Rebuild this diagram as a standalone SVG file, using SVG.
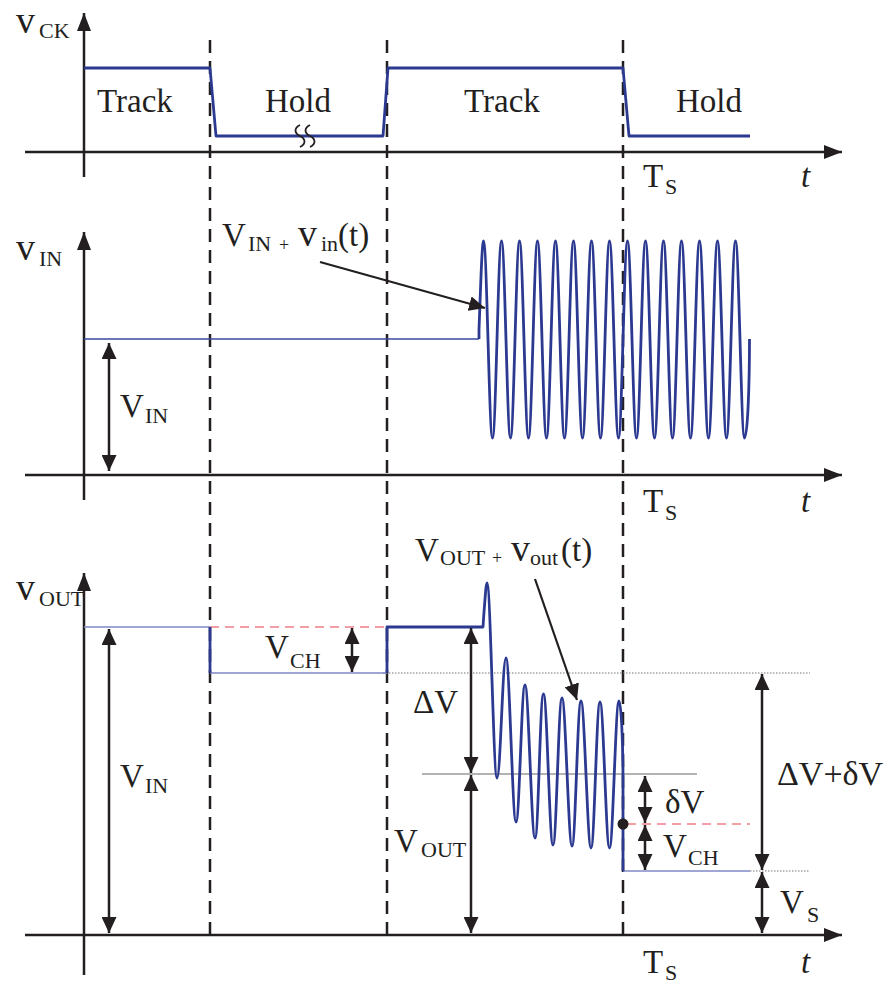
<svg xmlns="http://www.w3.org/2000/svg" width="889" height="985" viewBox="0 0 889 985">
<style>
.ax{stroke:#231f20;stroke-width:2.5;fill:none}
.dash{stroke:#231f20;stroke-width:2.5;stroke-dasharray:13 8;fill:none}
.wave{stroke:#2b3990;stroke-width:2.8;fill:none;stroke-linejoin:round}
.thin{stroke:#7f89c6;stroke-width:1.6;fill:none}
.red{stroke:#f07e86;stroke-width:1.6;stroke-dasharray:9 6;fill:none}
.dot{stroke:#777;stroke-width:1;stroke-dasharray:1.5 1.5;fill:none}
.gray{stroke:#9a9a9a;stroke-width:1.6;fill:none}
.dim{stroke:#231f20;stroke-width:2.5;fill:none;marker-start:url(#ah);marker-end:url(#ah)}
.ann{stroke:#231f20;stroke-width:2.2;fill:none;marker-end:url(#ah)}
.brk{stroke:#231f20;stroke-width:1.8;fill:none}
text{font-family:"Liberation Serif","Times New Roman",serif;fill:#231f20}
.m{font-size:33px}
.v{font-size:38px}
.s{font-size:22px}
.p{font-size:18px}
.it{font-style:italic}
</style>
<defs>
<marker id="ah" markerUnits="userSpaceOnUse" markerWidth="16" markerHeight="15" refX="16" refY="7.5" orient="auto-start-reverse" viewBox="0 0 16 15">
<path d="M0,0 L16,7.5 L0,15 z" fill="#231f20"/>
</marker>
<marker id="axh" markerUnits="userSpaceOnUse" markerWidth="18" markerHeight="14" refX="18" refY="7" orient="auto" viewBox="0 0 18 14">
<path d="M0,0 L18,7 L0,14 z" fill="#231f20"/>
</marker>
</defs>

<g id="axes">
<line class="ax" x1="84" y1="177" x2="84" y2="13" marker-end="url(#axh)"/>
<line class="ax" x1="25" y1="152" x2="842" y2="152" marker-end="url(#axh)"/>
<line class="ax" x1="84" y1="500" x2="84" y2="232" marker-end="url(#axh)"/>
<line class="ax" x1="25" y1="475" x2="842" y2="475" marker-end="url(#axh)"/>
<line class="ax" x1="84" y1="975" x2="84" y2="573" marker-end="url(#axh)"/>
<line class="ax" x1="25" y1="935" x2="842" y2="935" marker-end="url(#axh)"/>
</g>

<g id="timing-lines">
<line class="dash" x1="210" y1="40" x2="210" y2="943"/>
<line class="dash" x1="387" y1="40" x2="387" y2="943"/>
<line class="dash" x1="623" y1="40" x2="623" y2="943"/>
</g>

<g id="clock">
<path class="wave" d="M84,68 L210,68 L216,136 L383,136 L388,68 L623,68 L629,136 L750,136"/>
<path class="brk" d="M300,125 c-6,3 -6,8 0,11 s6,8 0,11"/>
<path class="brk" d="M310,125 c-6,3 -6,8 0,11 s6,8 0,11"/>
</g>

<g id="input">
<line x1="84" y1="339" x2="479" y2="339" stroke="#3a48a0" stroke-width="1.4"/>
<path class="wave" d="M479,339 L479,330 C480.5,290 482,241 483.5,241 C486.8,241 489.2,438 492.5,438 S498.2,241 501.5,241 S507.2,438 510.5,438 S516.2,241 519.5,241 S525.2,438 528.5,438 S534.2,241 537.5,241 S543.2,438 546.5,438 S552.2,241 555.5,241 S561.2,438 564.5,438 S570.2,241 573.5,241 S579.2,438 582.5,438 S588.2,241 591.5,241 S597.2,438 600.5,438 S606.2,241 609.5,241 S615.2,438 618.5,438 S624.2,241 627.5,241 S633.2,438 636.5,438 S642.2,241 645.5,241 S651.2,438 654.5,438 S660.2,241 663.5,241 S669.2,438 672.5,438 S678.2,241 681.5,241 S687.2,438 690.5,438 S696.2,241 699.5,241 S705.2,438 708.5,438 S714.2,241 717.5,241 S723.2,438 726.5,438 S732.2,241 735.5,241 S741.2,438 744.5,438 S749.5,380 749.5,339"/>
</g>

<g id="output">
<line class="dot" x1="383" y1="673" x2="810" y2="673"/>
<line class="dot" x1="750" y1="871" x2="810" y2="871"/>
<line class="gray" x1="422" y1="774" x2="697" y2="774"/>
<line class="red" x1="210" y1="627" x2="387" y2="627"/>
<line class="red" x1="627" y1="824" x2="750" y2="824"/>
<line class="thin" x1="84" y1="627" x2="210" y2="627"/>
<line class="thin" x1="210" y1="673" x2="387" y2="673"/>
<line class="thin" x1="623" y1="871" x2="750" y2="871"/>
<path class="wave" d="M210,627 L210,673"/>
<path class="wave" d="M387,673 L387,627 L483,627 L484,612 C485,600 486,583 487,583 C490.5,583 493.5,778 497,778 S502.5,658 506,658 S512.5,822 516,822 S521.5,685 525,685 S531.5,838 535,838 S540,694 543.5,694 S549.5,845 553,845 S558.5,698 562,698 S568.5,846 572,846 S577.5,701 581,701 S587.5,848 591,848 S596.5,702 600,702 S606,848 609.5,848 S615.5,701 619,701 C621,701 623,740 623,780 L623,871"/>
<circle cx="623" cy="824" r="5.5" fill="#231f20"/>
</g>

<g id="connectors">
<line class="ann" x1="320" y1="262" x2="485" y2="308"/>
<line class="ann" x1="535" y1="579" x2="577" y2="700"/>
<line class="dim" x1="109" y1="343" x2="109" y2="471"/>
<line class="dim" x1="109" y1="629" x2="109" y2="933"/>
<line class="dim" x1="352" y1="628" x2="352" y2="672"/>
<line class="dim" x1="471" y1="628" x2="471" y2="773"/>
<line class="dim" x1="471" y1="775" x2="471" y2="933"/>
<line class="dim" x1="645" y1="776" x2="645" y2="823"/>
<line class="dim" x1="645" y1="825" x2="645" y2="870"/>
<line class="dim" x1="762" y1="674" x2="762" y2="870"/>
<line class="dim" x1="762" y1="872" x2="762" y2="933"/>
</g>

<g id="labels">
<text class="v" x="16" y="33">v</text><text class="s" x="39" y="38">CK</text>
<text class="m" x="97" y="112">Track</text>
<text class="m" x="265" y="112">Hold</text>
<text class="m" x="464" y="112">Track</text>
<text class="m" x="676" y="112">Hold</text>
<text class="m" x="643" y="187">T</text><text class="s" x="665" y="194">S</text>
<text class="m it" x="801" y="187">t</text>

<text class="v" x="16" y="260">v</text><text class="s" x="39" y="266">IN</text>
<text class="m" x="222" y="246">V</text><text class="s" x="248" y="251">IN</text><text class="p" x="279" y="251">+</text><text class="v" x="298" y="246">v</text><text class="s" x="321" y="251">in</text><text class="m" x="338" y="246">(t)</text>
<text class="m" x="120" y="417">V</text><text class="s" x="145" y="423">IN</text>
<text class="m" x="643" y="512">T</text><text class="s" x="665" y="520">S</text>
<text class="m it" x="801" y="512">t</text>

<text class="v" x="16" y="600">v</text><text class="s" x="39" y="606">OUT</text>
<text class="m" x="415" y="561">V</text><text class="s" x="440" y="565">OUT</text><text class="p" x="492" y="564">+</text><text class="v" x="511" y="561">v</text><text class="s" x="530" y="565">out</text><text class="m" x="561" y="561">(t)</text>
<text class="m" x="120" y="787">V</text><text class="s" x="145" y="793">IN</text>
<text class="m" x="265" y="658">V</text><text class="s" x="290" y="668">CH</text>
<text class="m" x="413" y="713">ΔV</text>
<text class="m" x="394" y="852">V</text><text class="s" x="421" y="857">OUT</text>
<text class="m" x="665" y="813">δV</text>
<text class="m" x="663" y="857">V</text><text class="s" x="688" y="865">CH</text>
<text class="m" x="777" y="785" style="font-size:34px">ΔV+δV</text>
<text class="m" x="780" y="913">V</text><text class="s" x="807" y="922">S</text>
<text class="m" x="643" y="973">T</text><text class="s" x="665" y="980">S</text>
<text class="m it" x="801" y="973">t</text>
</g>
</svg>
